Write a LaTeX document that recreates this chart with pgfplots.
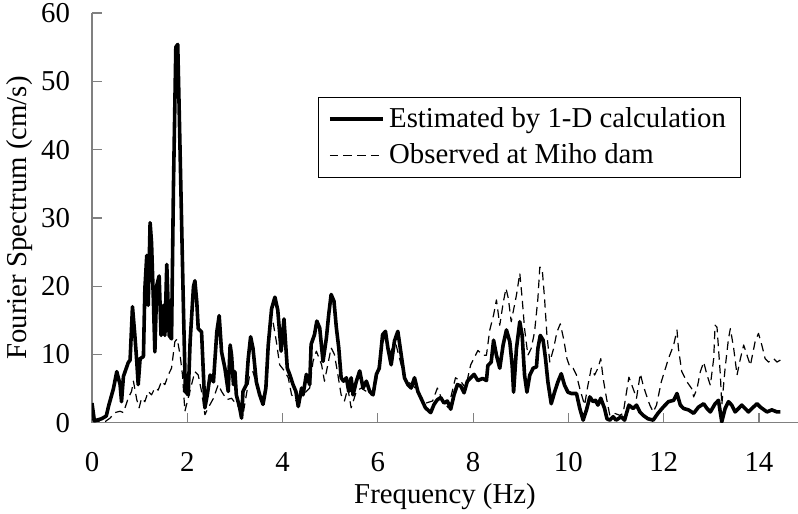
\documentclass[border=0pt]{standalone}
\usepackage{fontspec}
\setmainfont{Liberation Serif}
\usepackage{pgfplots}
\pgfplotsset{compat=1.18}
\definecolor{axgray}{RGB}{128,128,128}
\begin{document}
\fontsize{12bp}{14bp}\selectfont
\begin{tikzpicture}
\begin{axis}[
  scale only axis, width={294.2bp}, height={170.8bp},
  xmin={0}, xmax={14.82}, ymin={0}, ymax={60},
  xtick={0,2,...,14}, ytick={0,10,...,60},
  axis lines*={left}, axis line style={axgray, line width=0.5bp, -},
  tick align={inside}, major tick length={4bp},
  tick style={axgray, line width=0.5bp},
  /pgf/number format/assume math mode=true,
  tick label style={font=\fontsize{12bp}{14bp}\selectfont},
  label style={font=\fontsize{12bp}{14bp}\selectfont},
  yticklabel style={xshift={-5bp}},
  xticklabel style={yshift={-8bp}},
  xlabel={Frequency (Hz)},
  ylabel={Fourier Spectrum (cm/s)},
  xlabel style={at={(axis description cs:0.5,-0.18)}, anchor=center},
  ylabel style={at={(axis description cs:-0.102,0.5)}, anchor=center},
  legend style={at={(axis description cs:0.32,0.795)}, anchor=north west,
    draw=black, line width=0.4bp, fill=white, font=\fontsize{12bp}{14bp}\selectfont,
    row sep={1bp}, inner xsep={4bp}, inner ysep={2bp}},
  legend cell align={left},
  legend image code/.code={\draw[#1] (0bp,0bp) -- (22bp,0bp);},
]
\addplot[black, line width=1.5bp, line join=round] coordinates {
(0,2.9) (0.05,0.3) (0.1,0.4) (0.2,0.6) (0.3,1.0) (0.35,2.5) (0.45,5) (0.52,7.5)
(0.59,5.6) (0.62,3.1) (0.66,6.8) (0.76,8.8) (0.8,9.2) (0.85,17) (0.9,12.8)
(0.94,9) (0.97,5.6) (1.01,9.4) (1.08,9.7) (1.11,19.6) (1.15,24.5) (1.18,17.2)
(1.22,29.3) (1.25,26.4) (1.29,17.7) (1.32,10.4) (1.36,20.1) (1.41,21.5)
(1.45,12.8) (1.5,17.2) (1.53,12.8) (1.57,23.2) (1.62,12.8) (1.67,12.3)
(1.71,34.6) (1.76,55) (1.8,55.4) (1.83,46) (1.87,33) (1.92,16.7) (1.96,4.6)
(2.02,4.1) (2.06,11.9) (2.13,19.9) (2.16,20.8) (2.2,17.7) (2.23,13.8) (2.3,13.3)
(2.34,7) (2.37,2.2) (2.42,4.1) (2.48,7) (2.55,6) (2.62,13.3) (2.67,15.7)
(2.72,10.4) (2.79,8) (2.86,4.6) (2.9,11.4) (2.93,9.9) (2.97,5.6) (3.0,7.5)
(3.03,4.1) (3.1,2.2) (3.14,0.7) (3.17,4.6) (3.24,5.6) (3.28,9.4) (3.33,12.6)
(3.38,10.9) (3.45,6) (3.52,4.1) (3.59,2.7) (3.65,5.1) (3.7,11.4) (3.77,16.7)
(3.84,18.4) (3.9,16.5) (3.97,10.5) (4.03,15.2) (4.07,11) (4.1,8) (4.15,7.1)
(4.22,5.6) (4.28,4.6) (4.33,2.4) (4.4,5.1) (4.43,4.1) (4.5,7.1) (4.57,5.6)
(4.6,11.5) (4.67,12.9) (4.72,14.9) (4.78,13.9) (4.85,9) (4.92,12.4) (4.97,15.9)
(5.02,18.8) (5.08,17.8) (5.13,13.9) (5.18,11) (5.23,6.6) (5.28,6.1) (5.34,6.6)
(5.39,4.6) (5.44,6.6) (5.48,4.1) (5.55,6.1) (5.62,7.6) (5.69,5.1) (5.76,6.1)
(5.83,4.6) (5.9,4.1) (5.97,7.1) (6.03,8) (6.1,12.9) (6.16,13.4) (6.21,11)
(6.28,8.5) (6.35,12) (6.42,13.4) (6.49,10) (6.56,6.6) (6.63,5.6) (6.7,5.1)
(6.77,6.6) (6.84,4.6) (6.9,3.7) (7.0,2.2) (7.11,1.5) (7.18,2.7) (7.25,3.4)
(7.32,3.7) (7.39,2.9) (7.46,3.2) (7.53,2) (7.6,4.1) (7.67,5.6) (7.74,5.4)
(7.81,4.4) (7.88,6.1) (7.95,6.6) (8.02,7.1) (8.1,6.2) (8.2,6.5) (8.28,6.2)
(8.31,8.4) (8.38,8.9) (8.43,12.1) (8.49,9.9) (8.56,8) (8.63,11.4) (8.7,13.6)
(8.77,11.9) (8.82,8.4) (8.85,4.5) (8.91,10.9) (8.98,14.8) (9.03,12.8) (9.08,7)
(9.13,4.5) (9.19,7) (9.26,8) (9.33,8.2) (9.36,10.9) (9.41,12.8) (9.47,12.1)
(9.52,9.4) (9.57,6) (9.64,2.8) (9.71,4.5) (9.78,6) (9.85,7.2) (9.92,5.5)
(9.99,4.5) (10.06,4.3) (10.17,4.3) (10.24,2.1) (10.31,0.4) (10.38,1.9)
(10.45,3.8) (10.52,3.1) (10.57,3.3) (10.62,2.6) (10.68,3.6) (10.76,2.1)
(10.81,0.6) (10.87,0.4) (10.94,0.9) (11.0,0.4) (11.11,0.9) (11.18,0.4)
(11.22,1.4) (11.27,2.6) (11.36,2.1) (11.43,2.6) (11.5,1.6) (11.57,1.1)
(11.67,0.6) (11.78,0.4) (11.88,1.4) (11.99,2.3) (12.1,3.1) (12.21,3.3)
(12.28,4.3) (12.35,2.6) (12.42,2.1) (12.52,1.9) (12.63,1.4) (12.73,2.3)
(12.84,2.8) (12.91,2.1) (12.98,1.6) (13.08,2.8) (13.15,3.3) (13.22,0.15)
(13.29,2.1) (13.36,3.1) (13.43,2.6) (13.5,1.6) (13.57,2.1) (13.64,2.6)
(13.71,2.1) (13.78,1.6) (13.85,2.1) (13.96,2.8) (14.03,2.3) (14.17,1.6)
(14.27,1.9) (14.38,1.6) (14.45,1.6)
};
\addlegendentry{Estimated by 1-D calculation}
\addplot[black, line width=0.5bp, dash pattern=on 3.5bp off 2.2bp, line join=round] coordinates {
(0,0.5) (0.1,0.2) (0.2,0.3) (0.28,0.2) (0.38,0.7) (0.48,1.5) (0.59,1.7)
(0.66,1.5) (0.76,3.6) (0.83,4.6) (0.87,6.1) (0.94,3.4) (0.99,2.2) (1.04,3.6)
(1.11,3.1) (1.18,4.6) (1.25,4.1) (1.32,5.1) (1.39,4.8) (1.46,6.1) (1.53,5.6)
(1.6,7) (1.67,8) (1.74,11.9) (1.79,12.3) (1.85,9.9) (1.9,7) (1.95,1.7)
(2.02,3.6) (2.09,5.6) (2.16,7.5) (2.23,7) (2.3,4.6) (2.37,1.2) (2.44,2.2)
(2.55,3.6) (2.65,5.6) (2.72,4.6) (2.83,3.4) (2.93,3.6) (3.03,2.7) (3.1,2.2)
(3.17,1.2) (3.24,4.1) (3.31,7) (3.38,7.5) (3.45,5.6) (3.56,3.6) (3.66,4.6)
(3.73,14.3) (3.8,14.8) (3.87,11.9) (3.94,8.5) (4.05,7.5) (4.12,6.6) (4.19,4.1)
(4.29,3.2) (4.43,4.1) (4.57,5.1) (4.64,9) (4.71,10.5) (4.82,8.5) (4.88,6.1)
(4.95,8.5) (5.02,11) (5.09,10) (5.16,7.1) (5.23,4.1) (5.3,3.2) (5.37,5.1)
(5.44,2.2) (5.55,4.6) (5.65,5.1) (5.76,4.6) (5.86,4.1) (5.97,6.1) (6.07,11)
(6.16,12.9) (6.24,10) (6.31,11) (6.38,11.5) (6.49,8.5) (6.59,6.1) (6.73,5.6)
(6.87,4.1) (7.01,2.9) (7.15,3.2) (7.25,5.1) (7.36,3.2) (7.48,2.2) (7.63,6.6)
(7.74,6.1) (7.84,5.1) (7.95,8.5) (8.03,9.6) (8.1,10.6) (8.21,9.9) (8.28,9.9)
(8.35,13.6) (8.43,15.8) (8.49,18) (8.56,14.3) (8.63,17.5) (8.69,19.7)
(8.74,18.2) (8.8,14.8) (8.91,18.7) (8.98,21.9) (9.03,18.2) (9.08,13.8)
(9.15,9.9) (9.22,10.9) (9.29,13.3) (9.36,18.2) (9.4,22.8) (9.45,22.6)
(9.5,18.2) (9.55,12.8) (9.61,8.9) (9.69,10.9) (9.76,13.3) (9.83,14.5)
(9.9,12.3) (9.97,9.4) (10.03,8.2) (10.1,8) (10.17,7) (10.24,5) (10.34,2.6)
(10.41,5.5) (10.48,8) (10.55,7) (10.62,8) (10.68,9.4) (10.73,6.5) (10.8,3.6)
(10.87,1.1) (10.97,1.4) (11.08,1.1) (11.15,1.4) (11.22,4.5) (11.27,6.7)
(11.36,5) (11.43,3.6) (11.51,7.2) (11.57,5.5) (11.64,4) (11.71,2.6)
(11.78,1.6) (11.85,2.6) (11.95,6) (12.03,7.8) (12.1,9.4) (12.21,11.4)
(12.28,13.6) (12.31,10.9) (12.38,7.5) (12.49,6) (12.59,5) (12.63,3.8)
(12.7,5) (12.77,7.5) (12.84,8.9) (12.91,7) (12.98,5.5) (13.05,9.4) (13.08,14.3)
(13.12,14) (13.19,7) (13.22,2.6) (13.29,8) (13.36,12.3) (13.4,13.8)
(13.47,10.9) (13.54,7) (13.61,9.4) (13.68,11.4) (13.75,9.9) (13.82,8.4)
(13.92,11.9) (13.99,13.1) (14.06,11.4) (14.13,9.4) (14.2,8.9) (14.31,9.4)
(14.38,8.9) (14.45,9.2)
};
\addlegendentry{Observed at Miho dam}
\end{axis}
\pgfresetboundingbox
\path (current axis.south west) ++(-38.33bp,-37.92bp) coordinate (bbsw);
\path (current axis.north east) ++(0bp,5.42bp) coordinate (bbne);
\path[use as bounding box] (bbsw) rectangle (bbne);
\end{tikzpicture}
\end{document}
